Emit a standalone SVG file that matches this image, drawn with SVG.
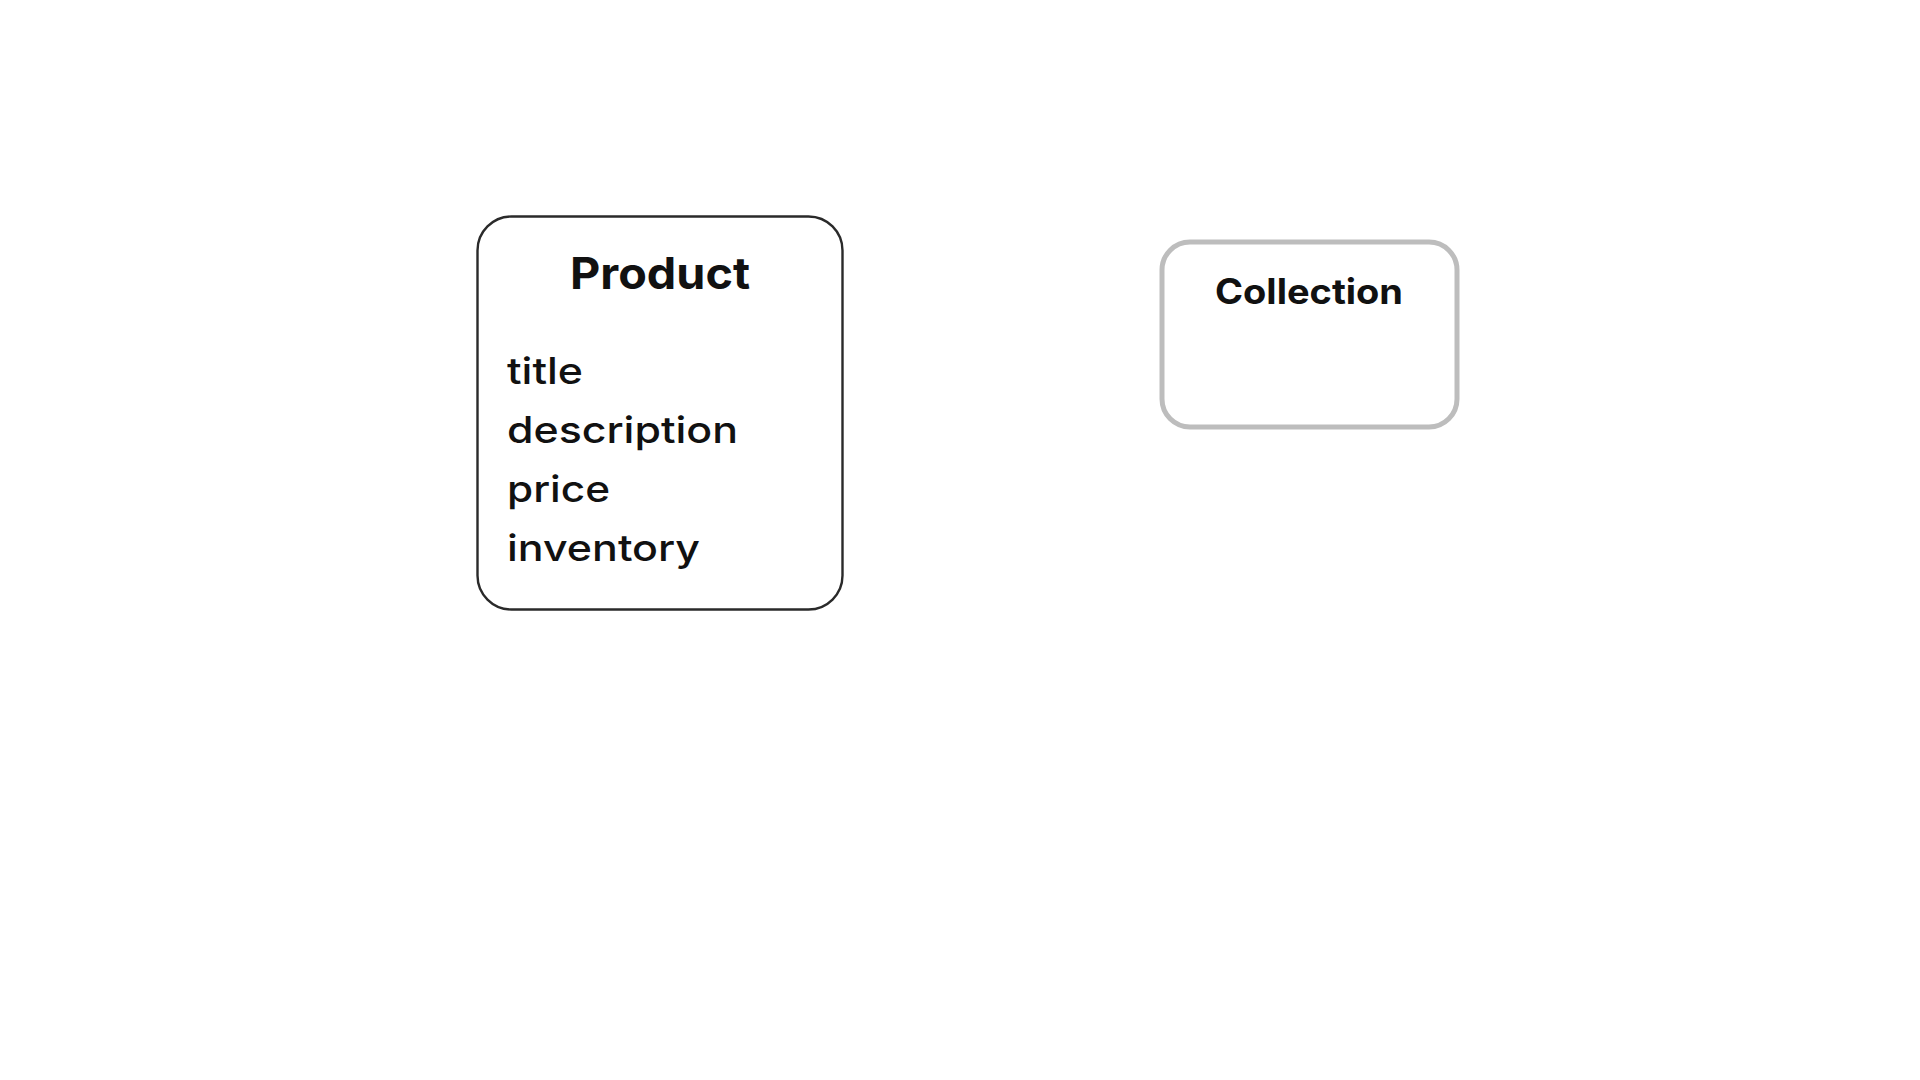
<svg xmlns="http://www.w3.org/2000/svg" width="1920" height="1080" viewBox="0 0 1920 1080">
<style>
.title{font-family:Inter,"Liberation Sans",sans-serif;font-weight:700;fill:#111;}
.field{font-family:Inter,"Liberation Sans",sans-serif;font-weight:500;font-size:37px;fill:#111;}
</style>
<rect width="1920" height="1080" fill="#ffffff"/>
<g id="product">
<rect x="477.5" y="216.5" width="365" height="393" rx="34" ry="34" fill="#ffffff" stroke="#2a2a2a" stroke-width="2.4"/>
<text class="title" x="660" y="289" font-size="44" text-anchor="middle" textLength="180" lengthAdjust="spacingAndGlyphs">Product</text>
<text class="field" x="507" y="384" textLength="76" lengthAdjust="spacingAndGlyphs">title</text>
<text class="field" x="507" y="443" textLength="231" lengthAdjust="spacingAndGlyphs">description</text>
<text class="field" x="507" y="502" textLength="103" lengthAdjust="spacingAndGlyphs">price</text>
<text class="field" x="507" y="561" textLength="193" lengthAdjust="spacingAndGlyphs">inventory</text>
</g>
<g id="collection">
<rect x="1162" y="242" width="295" height="185" rx="28" ry="28" fill="#ffffff" stroke="#bdbdbd" stroke-width="5"/>
<text class="title" x="1309" y="304" font-size="35" text-anchor="middle" textLength="188" lengthAdjust="spacingAndGlyphs">Collection</text>
</g>
<g id="connectors"></g>
</svg>
